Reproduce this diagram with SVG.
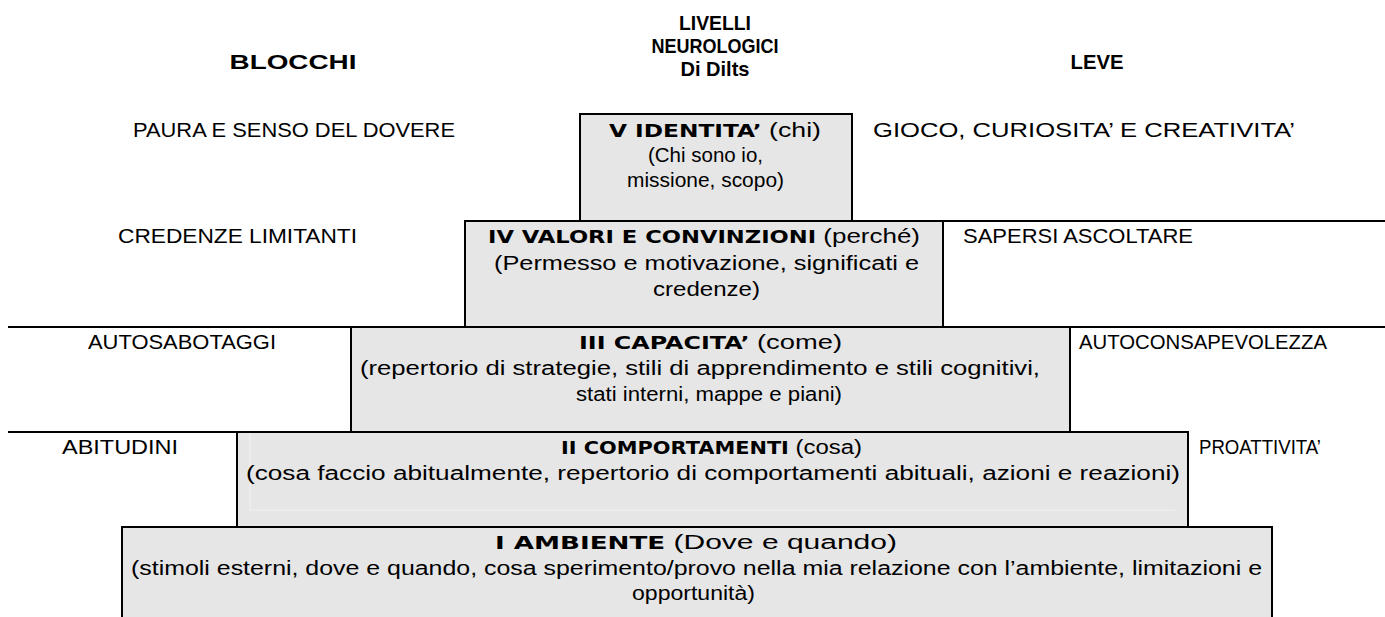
<svg xmlns="http://www.w3.org/2000/svg" width="1385" height="617" viewBox="0 0 1385 617">
<style>
.box{fill:#e6e6e6;stroke:#000;stroke-width:2}
.ln{stroke:#000;stroke-width:2;fill:none}
.faint{stroke:#f3f3f3;stroke-width:1;fill:none}
text{font-family:"Liberation Sans",Arial,sans-serif;font-size:19.5px;fill:#000}
.h{font-family:"Liberation Sans",Arial,sans-serif;font-weight:bold;font-size:21px;text-anchor:middle}
.b{font-family:"DejaVu Sans",Verdana,sans-serif;font-weight:bold;font-size:17px}
</style>
<rect width="1385" height="617" fill="#fff"/>
<g id="headers">
<text class="h" x="293" y="69" textLength="127" lengthAdjust="spacingAndGlyphs">BLOCCHI</text>
<text class="h" x="715" y="30" textLength="72" lengthAdjust="spacingAndGlyphs">LIVELLI</text>
<text class="h" x="715" y="53" textLength="127" lengthAdjust="spacingAndGlyphs">NEUROLOGICI</text>
<text class="h" x="715" y="76" textLength="69" lengthAdjust="spacingAndGlyphs">Di Dilts</text>
<text class="h" x="1097" y="69" textLength="53" lengthAdjust="spacingAndGlyphs">LEVE</text>
</g>
<g id="connectors">
<line class="ln" x1="465" y1="221" x2="1385" y2="221"/>
<line class="ln" x1="8" y1="327" x2="1385" y2="327"/>
<line class="ln" x1="8" y1="432" x2="1188" y2="432"/>
</g>
<g id="level5">
<rect class="box" x="580" y="114" width="272" height="107"/>
<text x="609" y="137" textLength="212" lengthAdjust="spacingAndGlyphs"><tspan class="b">V  IDENTITA’</tspan> (chi)</text>
<text x="648" y="162" textLength="115" lengthAdjust="spacingAndGlyphs">(Chi sono io,</text>
<text x="627" y="187" textLength="157" lengthAdjust="spacingAndGlyphs">missione, scopo)</text>
</g>
<g id="level4">
<rect class="box" x="465" y="221" width="478" height="106"/>
<text x="488" y="243" textLength="432" lengthAdjust="spacingAndGlyphs"><tspan class="b">IV  VALORI E CONVINZIONI</tspan> (perché)</text>
<text x="494" y="270" textLength="425" lengthAdjust="spacingAndGlyphs">(Permesso e motivazione, significati e</text>
<text x="653" y="296" textLength="107" lengthAdjust="spacingAndGlyphs">credenze)</text>
</g>
<g id="level3">
<rect class="box" x="351" y="327" width="719" height="105"/>
<text x="579" y="349" textLength="263" lengthAdjust="spacingAndGlyphs"><tspan class="b">III  CAPACITA’</tspan>  (come)</text>
<text x="360" y="375" textLength="680" lengthAdjust="spacingAndGlyphs">(repertorio di strategie, stili di apprendimento e stili cognitivi,</text>
<text x="576" y="401" textLength="266" lengthAdjust="spacingAndGlyphs">stati interni, mappe e piani)</text>
</g>
<g id="level2">
<rect class="box" x="237" y="432" width="951" height="95"/>
<polyline class="faint" points="250,433 250,510 1175,510"/>
<text x="561" y="454" textLength="301" lengthAdjust="spacingAndGlyphs"><tspan class="b">II  COMPORTAMENTI</tspan>  (cosa)</text>
<text x="246" y="480" textLength="934" lengthAdjust="spacingAndGlyphs">(cosa faccio abitualmente, repertorio di comportamenti abituali, azioni e reazioni)</text>
</g>
<g id="level1">
<rect class="box" x="122" y="527" width="1150" height="100"/>
<text x="495" y="549" textLength="402" lengthAdjust="spacingAndGlyphs"><tspan class="b">I  AMBIENTE</tspan>   (Dove e quando)</text>
<text x="131" y="575" textLength="1131" lengthAdjust="spacingAndGlyphs">(stimoli esterni, dove e quando, cosa sperimento/provo nella mia relazione con l’ambiente, limitazioni e</text>
<text x="632" y="600" textLength="123" lengthAdjust="spacingAndGlyphs">opportunità)</text>
</g>
<g id="blocks">
<text x="133" y="137" textLength="322" lengthAdjust="spacingAndGlyphs">PAURA E SENSO DEL DOVERE</text>
<text x="118" y="243" textLength="239" lengthAdjust="spacingAndGlyphs">CREDENZE LIMITANTI</text>
<text x="88" y="349" textLength="188" lengthAdjust="spacingAndGlyphs">AUTOSABOTAGGI</text>
<text x="62" y="454" textLength="116" lengthAdjust="spacingAndGlyphs">ABITUDINI</text>
</g>
<g id="levers">
<text x="873" y="137" textLength="422" lengthAdjust="spacingAndGlyphs">GIOCO, CURIOSITA’ E CREATIVITA’</text>
<text x="963" y="243" textLength="230" lengthAdjust="spacingAndGlyphs">SAPERSI ASCOLTARE</text>
<text x="1079" y="349" textLength="248" lengthAdjust="spacingAndGlyphs">AUTOCONSAPEVOLEZZA</text>
<text x="1199" y="454" textLength="122" lengthAdjust="spacingAndGlyphs">PROATTIVITA’</text>
</g>
</svg>
